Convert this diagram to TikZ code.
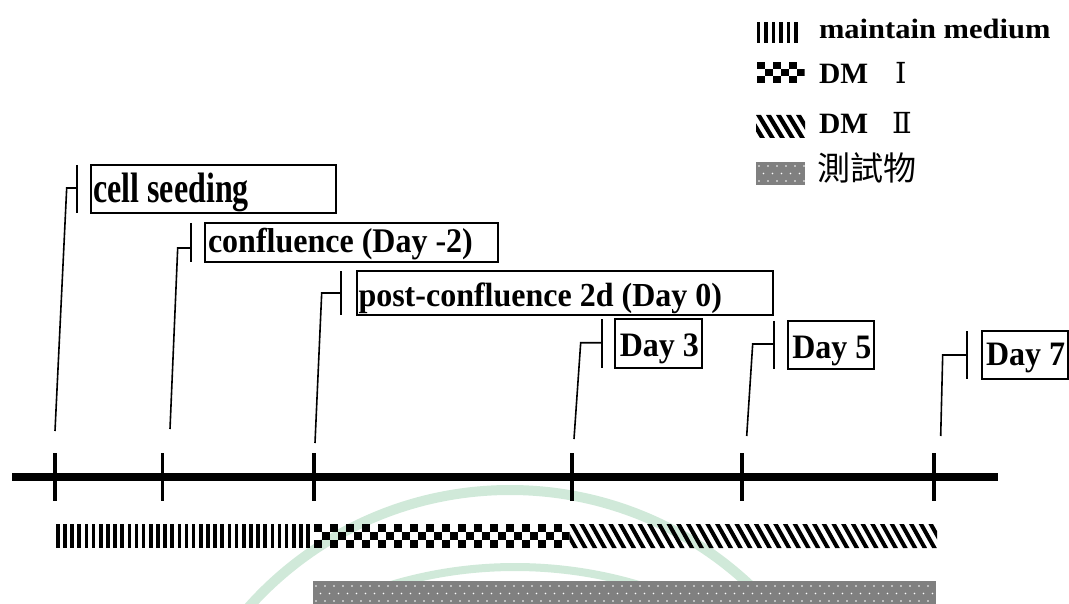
\documentclass[tikz,border=0pt]{standalone}
\usepackage{fontspec}
\usepackage{graphicx}
\usetikzlibrary{calc}
\newfontfamily\callfont{Liberation Serif}
\newfontfamily\legfont[FakeStretch=1.09]{Liberation Serif}
\newfontfamily\romfont{DejaVu Serif}
\newfontfamily\cjkfont{Noto Sans CJK TC}
\definecolor{wmgreen}{RGB}{208,233,217}
\definecolor{dotgray}{RGB}{128,128,128}
\tikzset{
  callbox/.style={draw, line width=1.8pt, inner sep=0pt, outer sep=0pt, anchor=north west},
  calltext/.style={anchor=base west, inner sep=0pt, outer sep=0pt, font=\callfont\bfseries\fontsize{32}{36}\selectfont},
  legtext/.style={anchor=base west, inner sep=0pt, outer sep=0pt, font=\legfont\bfseries\fontsize{28}{30}\selectfont},
  dmtext/.style={anchor=base west, inner sep=0pt, outer sep=0pt, font=\callfont\bfseries\fontsize{29.5}{32}\selectfont},
  leader/.style={line width=1.6pt},
  stub/.style={line width=1.8pt},
  axisline/.style={line width=8pt},
  tickline/.style={line width=3.5pt},
}
\begin{document}
\begin{tikzpicture}[x=1pt,y=-1pt]
\useasboundingbox (0,0) rectangle (1069,604);
% faint watermark
\begin{scope}
  \clip (0,0) rectangle (1069,604);
  \draw[wmgreen, line width=10pt] (510,840) circle (350pt);
  \draw[wmgreen, line width=8pt] (515,1000) circle (433pt);
\end{scope}

% timeline
\coordinate (axL) at (12,477);
\coordinate (axR) at (998,477);
\draw[axisline] (axL) -- (axR);
\foreach \x in {55,162.5,314,572,742,934}
  \draw[tickline] (\x,453) -- (\x,501);

% ---------- callouts ----------
% cell seeding
\node[callbox, minimum width=245pt, minimum height=48pt] (cs) at (90.7,165) {};
\node[calltext] (csT) at ($(cs.north west)+(2.6,38)$) {\scalebox{1}[1.33]{cell seeding}};
\coordinate (csB) at (55,431);
\draw[stub] ($(cs.north west)+(-14,0)$) -- ($(cs.south west)+(-14,0)$);
\draw[leader] (csB) -- ($(cs.north west)+(-24,23)$) -- ($(cs.north west)+(-14,23)$);

% confluence
\node[callbox, minimum width=293pt, minimum height=39pt] (cf) at (205,223) {};
\node[calltext] (cfT) at ($(cf.north west)+(3,30)$) {\scalebox{1}[1.08]{confluence (Day -2)}};
\coordinate (cfB) at (170,429);
\draw[stub] ($(cf.north west)+(-14,0)$) -- ($(cf.south west)+(-14,0)$);
\draw[leader] (cfB) -- ($(cf.north west)+(-27.3,25)$) -- ($(cf.north west)+(-14,25)$);

% post-confluence
\node[callbox, minimum width=416pt, minimum height=43.7pt] (pc) at (356.7,271.3) {};
\node[calltext] (pcT) at ($(pc.north west)+(1.8,35.4)$) {\scalebox{1}[1.05]{post-confluence 2d (Day 0)}};
\coordinate (pcB) at (315,443);
\draw[stub] ($(pc.north west)+(-15.7,0)$) -- ($(pc.south west)+(-15.7,0)$);
\draw[leader] (pcB) -- ($(pc.north west)+(-35,21.7)$) -- ($(pc.north west)+(-15.7,21.7)$);

% Day 3
\node[callbox, minimum width=87.3pt, minimum height=48.4pt] (d3) at (615,319.3) {};
\node[calltext] (d3T) at ($(d3.north west)+(4.8,37.4)$) {\scalebox{1}[1.07]{Day 3}};
\coordinate (d3B) at (574,439);
\draw[stub] ($(d3.north west)+(-13.3,0)$) -- ($(d3.south west)+(-13.3,0)$);
\draw[leader] (d3B) -- ($(d3.north west)+(-34.3,23.4)$) -- ($(d3.north west)+(-13.3,23.4)$);

% Day 5
\node[callbox, minimum width=86.6pt, minimum height=48.3pt] (d5) at (787.7,321) {};
\node[calltext] (d5T) at ($(d5.north west)+(4.6,37)$) {\scalebox{1}[1.07]{Day 5}};
\coordinate (d5B) at (746.7,436);
\draw[stub] ($(d5.north west)+(-13.7,0)$) -- ($(d5.south west)+(-13.7,0)$);
\draw[leader] (d5B) -- ($(d5.north west)+(-35,23)$) -- ($(d5.north west)+(-13.7,23)$);

% Day 7
\node[callbox, minimum width=86pt, minimum height=48.3pt] (d7) at (981.7,331) {};
\node[calltext] (d7T) at ($(d7.north west)+(4.3,34)$) {\scalebox{1}[1.07]{Day 7}};
\coordinate (d7B) at (940.7,436);
\draw[stub] ($(d7.north west)+(-14.4,0)$) -- ($(d7.south west)+(-14.4,0)$);
\draw[leader] (d7B) -- ($(d7.north west)+(-39,24)$) -- ($(d7.north west)+(-14.4,24)$);

% ---------- bars ----------
% maintain medium: vertical stripes
\begin{scope}
  \clip (56,524) rectangle (313.5,548);
  \foreach \i in {0,...,35}
    \fill (56+\i*7.15,524) rectangle ++(3.6,24);
\end{scope}
% DM I: checker
\begin{scope}
  \clip (314,524) rectangle (569.5,548);
  \foreach \c in {0,...,31}{
    \foreach \r in {0,1,2}{
      \pgfmathtruncatemacro\cm{mod(\c+\r,2)}
      \ifnum\cm=0 \fill (314+\c*8,524+\r*8) rectangle ++(8,8); \fi
    }
  }
\end{scope}
% DM II: diagonal stripes
\begin{scope}
  \clip (569.5,524) rectangle (937,548);
  \foreach \i in {-3,...,38}
    \fill (569.5+\i*9.7,524) -- ++(4.6,0) -- ++(13.5,24) -- ++(-4.6,0) -- cycle;
\end{scope}
% test substance: dotted gray
\begin{scope}
  \clip (313,581) rectangle (936,604);
  \fill[dotgray] (313,581) rectangle (936,604);
  \foreach \i in {0,...,69}{
    \fill[white] (316+\i*9,586) circle (0.9pt);
    \fill[white] (320.5+\i*9,593.5) circle (0.9pt);
    \fill[white] (316+\i*9,601) circle (0.9pt);
  }
\end{scope}

% ---------- legend ----------
\foreach \i in {0,...,5}
  \fill (756.7+\i*7.5,21.7) rectangle ++(3.6,21.6);
\node[legtext] (lg1) at (819,38.3) {maintain medium};

\begin{scope}
  \clip (756.7,61.7) rectangle (804.7,83.3);
  \foreach \c in {0,...,5}{
    \foreach \r in {0,1,2}{
      \pgfmathtruncatemacro\cm{mod(\c+\r,2)}
      \ifnum\cm=0 \fill (756.7+\c*8,61.7+\r*7.2) rectangle ++(8,7.2); \fi
    }
  }
\end{scope}
\node[dmtext] (lg2) at (819,83.3) {DM\hspace{27pt}{\romfont\mdseries\fontsize{29}{30}\selectfont Ⅰ}};

\begin{scope}
  \clip (756,115) rectangle (805,138);
  \foreach \i in {-3,...,5}
    \fill (756+\i*10,115) -- ++(5,0) -- ++(14,23) -- ++(-5,0) -- cycle;
\end{scope}
\node[dmtext] (lg3) at (819,134) {DM\hspace{24pt}{\romfont\mdseries\fontsize{29}{30}\selectfont Ⅱ}};

\begin{scope}
  \clip (756,161.7) rectangle (805,185);
  \fill[dotgray] (756,161.7) rectangle (805,185);
  \foreach \i in {0,...,5}{
    \fill[white] (759+\i*9,166) circle (0.9pt);
    \fill[white] (763.5+\i*9,173.5) circle (0.9pt);
    \fill[white] (759+\i*9,181) circle (0.9pt);
  }
\end{scope}
\node[anchor=base west, inner sep=0pt, outer sep=0pt] (lg4) at (817,180.5) {\cjkfont\fontsize{33}{36}\selectfont 測試物};
\end{tikzpicture}
\end{document}
